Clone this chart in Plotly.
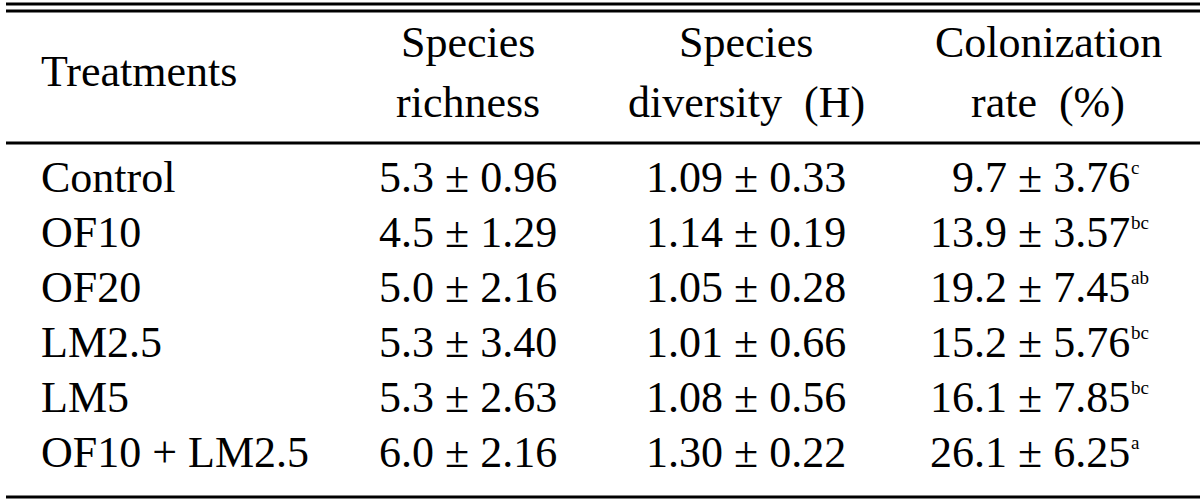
import plotly.graph_objects as go

treatments = ["Control", "OF10", "OF20", "LM2.5", "LM5", "OF10 + LM2.5"]
richness_mean = ["5.3", "4.5", "5.0", "5.3", "5.3", "6.0"]
richness_sd = ["0.96", "1.29", "2.16", "3.40", "2.63", "2.16"]
diversity_mean = ["1.09", "1.14", "1.05", "1.01", "1.08", "1.30"]
diversity_sd = ["0.33", "0.19", "0.28", "0.66", "0.56", "0.22"]
colon_mean = ["9.7", "13.9", "19.2", "15.2", "16.1", "26.1"]
colon_sd = ["3.76", "3.57", "7.45", "5.76", "7.85", "6.25"]
colon_letters = ["c", "bc", "ab", "bc", "bc", "a"]
header_top = ["", "Species", "Species", "Colonization"]
header_bottom = ["", "richness", "diversity  (H)", "rate  (%)"]
first_header = "Treatments"

FONT = "Liberation Serif"
FS = 44
W, H = 1200, 500

fig = go.Figure()
fig.update_layout(
    width=W, height=H,
    margin=dict(l=0, r=0, t=0, b=0),
    paper_bgcolor="white", plot_bgcolor="white",
    xaxis=dict(range=[0, W], visible=False, fixedrange=True),
    yaxis=dict(range=[H, 0], visible=False, fixedrange=True),
    showlegend=False,
)

# rules
for y in [4, 11, 143, 497]:
    fig.add_shape(type="line", x0=6, x1=1200, y0=y, y1=y, xref="x", yref="y",
                  line=dict(color="black", width=3))

def ann(x, y, text, xanchor="center", size=FS):
    fig.add_annotation(x=x, y=y, text=text, xref="x", yref="y", showarrow=False,
                       xanchor=xanchor, yanchor="middle", borderpad=0,
                       font=dict(family=FONT, size=size, color="black"))

col_x = [40, 468, 746, 1048]
# headers
ann(col_x[0], 71, first_header, xanchor="left")
for i in range(1, 4):
    ann(col_x[i], 42, header_top[i])
    ann(col_x[i], 102, header_bottom[i])

row_y0, row_dy = 177, 55
for r in range(len(treatments)):
    y = row_y0 + r * row_dy
    ann(col_x[0], y, treatments[r], xanchor="left")
    ann(col_x[1], y, f"{richness_mean[r]} ± {richness_sd[r]}")
    ann(col_x[2], y, f"{diversity_mean[r]} ± {diversity_sd[r]}")
    ann(1131, y, f"{colon_mean[r]} ± {colon_sd[r]}", xanchor="right")
    ann(1130, y - 10, colon_letters[r], xanchor="left", size=19)

fig.write_html("out.html", config={"displayModeBar": False, "staticPlot": True},
               post_script="document.body.style.margin='0';")
